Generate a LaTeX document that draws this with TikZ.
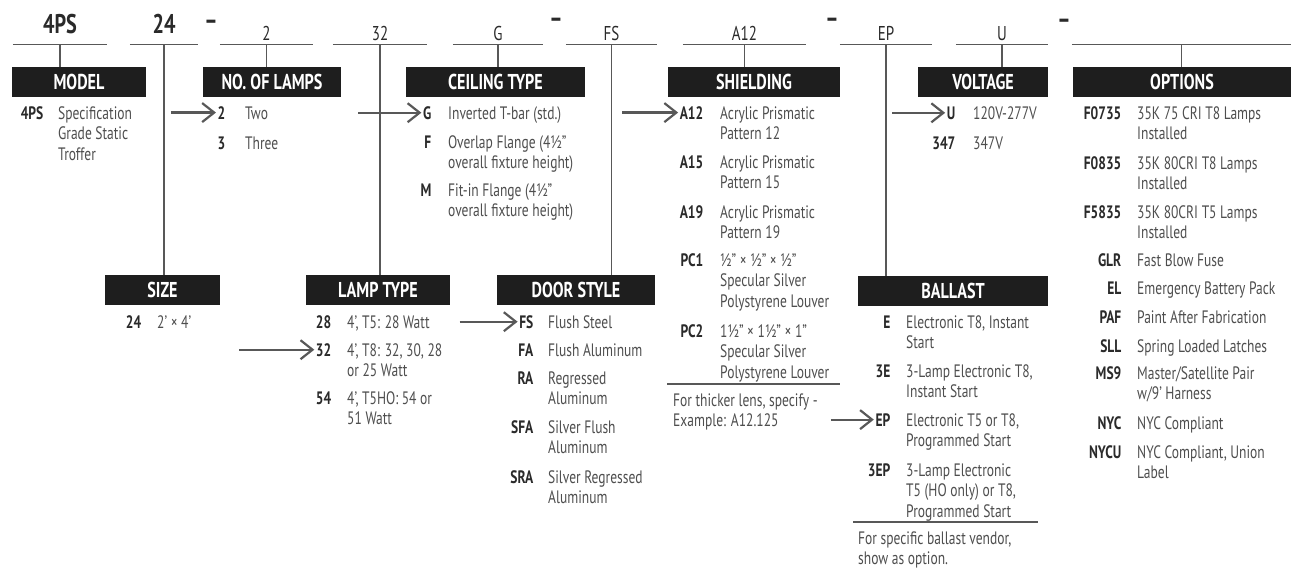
\documentclass[tikz,border=0pt]{standalone}
\usepackage{fontspec}
\setmainfont{PT Sans}[FakeStretch=0.75]
\usetikzlibrary{arrows.meta}
\definecolor{headfill}{HTML}{1E1E1E}
\definecolor{codecol}{HTML}{2A2A2A}
\definecolor{desccol}{HTML}{4E4E4E}
\definecolor{rulecol}{HTML}{585858}
\newcommand{\descfont}{\fontsize{18}{20.5}\selectfont}
\newcommand{\codefont}{\fontsize{18}{20.5}\selectfont\bfseries}
\newcommand{\headfont}{\fontsize{21.5}{24}\selectfont\bfseries}
\newcommand{\bigfont}{\fontsize{27}{30}\selectfont\bfseries}
\newcommand{\topfont}{\fontsize{20}{22}\selectfont}
\begin{document}
\begin{tikzpicture}[x=1pt, y=-1pt,
    head/.style={fill=headfill, text=white, font=\headfont, minimum height=30pt, inner sep=0pt},
    slot/.style={anchor=base, inner sep=0pt, text depth=4pt, font=\topfont, text=codecol},
    bigslot/.style={slot, text depth=11pt, font=\bigfont},
    joiner/.style={inner sep=0pt, font=\bigfont, text=codecol},
    opt/.style={anchor=base east, inner xsep=1.5pt, inner ysep=0pt, font=\codefont, text=codecol},
    desc/.style={anchor=north west, yshift=14.35pt, inner sep=0pt, align=left, font=\descfont, text=desccol},
    guide/.style={draw=rulecol, line width=1.3pt},
    pick/.style={-{Straight Barb[length=12pt,width=19pt]}, line width=2.2pt, draw=rulecol}]
    \useasboundingbox (0,0) rectangle (1291,568);

    % Catalog number
    \node[bigslot, minimum width=94pt] (s4PS) at (60,33) {4PS};
    \node[bigslot, minimum width=68pt] (s24) at (164,33) {24};
    \node[slot, minimum width=93pt] (s2) at (266.5,40) {2};
    \node[slot, minimum width=94pt] (s32) at (380,40) {32};
    \node[slot, minimum width=90pt] (sG) at (498,40) {G};
    \node[slot, minimum width=91pt] (sFS) at (611.5,40) {FS};
    \node[slot, minimum width=123pt] (sA12) at (744.5,40) {A12};
    \node[slot, minimum width=92pt] (sEP) at (886,40) {EP};
    \node[slot, minimum width=92pt] (sU) at (1002,40) {U};
    \node[slot, minimum width=219pt] (sOpt) at (1181.5,40) {};
    \node[joiner] (j1) at (211,25) {–};
    \node[joiner] (j2) at (556,23) {–};
    \node[joiner] (j3) at (832,23) {–};
    \node[joiner] (j4) at (1064,24) {–};

    % Headers
    \node[head, minimum width=134pt] (hModel) at (79,82) {MODEL};
    \node[head, minimum width=138pt] (hLamps) at (272,82) {NO. OF LAMPS};
    \node[head, minimum width=179pt] (hCeil) at (495.5,82) {CEILING TYPE};
    \node[head, minimum width=172pt] (hShield) at (754,82) {SHIELDING};
    \node[head, minimum width=130pt] (hVolt) at (983,82) {VOLTAGE};
    \node[head, minimum width=218pt] (hOpt) at (1182,82) {OPTIONS};
    \node[head, minimum width=115pt] (hSize) at (162.5,290) {SIZE};
    \node[head, minimum width=144pt] (hLamp) at (378,290) {LAMP TYPE};
    \node[head, minimum width=158pt] (hDoor) at (576,290) {DOOR STYLE};
    \node[head, minimum width=190pt] (hBall) at (953,291) {BALLAST};

    % Lines from the number to the headers
    \draw[guide] (s4PS.south west) -- (s4PS.south east) (s4PS.south) -- (s4PS.south |- hModel.north);
    \draw[guide] (s24.south west) -- (s24.south east) (s24.south) -- (s24.south |- hSize.north);
    \draw[guide] (s2.south west) -- (s2.south east) (s2.south) -- (s2.south |- hLamps.north);
    \draw[guide] (s32.south west) -- (s32.south east) (s32.south) -- (s32.south |- hLamp.north);
    \draw[guide] (sG.south west) -- (sG.south east) (sG.south) -- (sG.south |- hCeil.north);
    \draw[guide] (sFS.south west) -- (sFS.south east) (sFS.south) -- (sFS.south |- hDoor.north);
    \draw[guide] (sA12.south west) -- (sA12.south east) (sA12.south) -- (sA12.south |- hShield.north);
    \draw[guide] (sEP.south west) -- (sEP.south east) (sEP.south) -- (sEP.south |- hBall.north);
    \draw[guide] (sU.south west) -- (sU.south east) (sU.south) -- (sU.south |- hVolt.north);
    \draw[guide] (sOpt.south west) -- (sOpt.south east) (sOpt.south) -- (sOpt.south |- hOpt.north);

    % Model
    \node[opt] (m4PS) at (45,119) {4PS};
    \node[desc] (m4PSt) at (58,119) {\strut Specification\\Grade Static\\Troffer};

    % No. of lamps
    \node[opt] (l2) at (227,119) {2};
    \node[desc] (l2t) at (245,119) {\strut Two};
    \node[opt] (l3) at (227,149) {3};
    \node[desc] (l3t) at (245,149) {\strut Three};

    % Ceiling type
    \node[opt] (cG) at (433,119) {G};
    \node[desc] (cGt) at (448,119) {\strut Inverted T-bar (std.)};
    \node[opt] (cF) at (433,148) {F};
    \node[desc] (cFt) at (448,148) {\strut Overlap Flange (4½"\\overall fixture height)};
    \node[opt] (cM) at (433,196) {M};
    \node[desc] (cMt) at (448,196) {\strut Fit-in Flange (4½"\\overall fixture height)};

    % Shielding
    \node[opt] (shA12) at (705,119) {A12};
    \node[desc] (shA12t) at (720,119) {\strut Acrylic Prismatic\\Pattern 12};
    \node[opt] (shA15) at (705,168) {A15};
    \node[desc] (shA15t) at (720,168) {\strut Acrylic Prismatic\\Pattern 15};
    \node[opt] (shA19) at (705,218) {A19};
    \node[desc] (shA19t) at (720,218) {\strut Acrylic Prismatic\\Pattern 19};
    \node[opt] (shPC1) at (705,266) {PC1};
    \node[desc] (shPC1t) at (720,266) {\strut ½" × ½" × ½"\\Specular Silver\\Polystyrene Louver};
    \node[opt] (shPC2) at (705,337) {PC2};
    \node[desc] (shPC2t) at (720,337) {\strut 1½" × 1½" × 1"\\Specular Silver\\Polystyrene Louver};
    \draw[guide] (667,384) -- (840,384);
    \node[desc] (shNote) at (673,406) {\strut For thicker lens, specify -\\Example: A12.125};

    % Voltage
    \node[opt] (vU) at (957,119) {U};
    \node[desc] (vUt) at (973,119) {\strut 120V-277V};
    \node[opt] (v347) at (957,149) {347};
    \node[desc] (v347t) at (973,149) {\strut 347V};

    % Options
    \node[opt] (oF0735) at (1123,119) {F0735};
    \node[desc] (oF0735t) at (1137,119) {\strut 35K 75 CRI T8 Lamps\\Installed};
    \node[opt] (oF0835) at (1123,169) {F0835};
    \node[desc] (oF0835t) at (1137,169) {\strut 35K 80CRI T8 Lamps\\Installed};
    \node[opt] (oF5835) at (1123,218) {F5835};
    \node[desc] (oF5835t) at (1137,218) {\strut 35K 80CRI T5 Lamps\\Installed};
    \node[opt] (oGLR) at (1123,266) {GLR};
    \node[desc] (oGLRt) at (1137,266) {\strut Fast Blow Fuse};
    \node[opt] (oEL) at (1123,294) {EL};
    \node[desc] (oELt) at (1137,294) {\strut Emergency Battery Pack};
    \node[opt] (oPAF) at (1123,323) {PAF};
    \node[desc] (oPAFt) at (1137,323) {\strut Paint After Fabrication};
    \node[opt] (oSLL) at (1123,352) {SLL};
    \node[desc] (oSLLt) at (1137,352) {\strut Spring Loaded Latches};
    \node[opt] (oMS9) at (1123,379) {MS9};
    \node[desc] (oMS9t) at (1137,379) {\strut Master/Satellite Pair\\w/9' Harness};
    \node[opt] (oNYC) at (1123,429) {NYC};
    \node[desc] (oNYCt) at (1137,429) {\strut NYC Compliant};
    \node[opt] (oNYCU) at (1123,458) {NYCU};
    \node[desc] (oNYCUt) at (1137,458) {\strut NYC Compliant, Union\\Label};

    % Size
    \node[opt] (z24) at (143,328) {24};
    \node[desc] (z24t) at (157,328) {\strut 2' × 4'};

    % Lamp type
    \node[opt] (t28) at (333,328) {28};
    \node[desc] (t28t) at (347,328) {\strut 4', T5: 28 Watt};
    \node[opt] (t32) at (333,356) {32};
    \node[desc] (t32t) at (347,356) {\strut 4', T8: 32, 30, 28\\or 25 Watt};
    \node[opt] (t54) at (333,404) {54};
    \node[desc] (t54t) at (347,404) {\strut 4', T5HO: 54 or\\51 Watt};

    % Door style
    \node[opt] (dFS) at (535,328) {FS};
    \node[desc] (dFSt) at (548,328) {\strut Flush Steel};
    \node[opt] (dFA) at (535,356) {FA};
    \node[desc] (dFAt) at (548,356) {\strut Flush Aluminum};
    \node[opt] (dRA) at (535,384) {RA};
    \node[desc] (dRAt) at (548,384) {\strut Regressed\\Aluminum};
    \node[opt] (dSFA) at (535,433) {SFA};
    \node[desc] (dSFAt) at (548,433) {\strut Silver Flush\\Aluminum};
    \node[opt] (dSRA) at (535,483) {SRA};
    \node[desc] (dSRAt) at (548,483) {\strut Silver Regressed\\Aluminum};

    % Ballast
    \node[opt] (bE) at (892,328) {E};
    \node[desc] (bEt) at (906,328) {\strut Electronic T8, Instant\\Start};
    \node[opt] (b3E) at (892,377) {3E};
    \node[desc] (b3Et) at (906,377) {\strut 3-Lamp Electronic T8,\\Instant Start};
    \node[opt] (bEP) at (892,426) {EP};
    \node[desc] (bEPt) at (906,426) {\strut Electronic T5 or T8,\\Programmed Start};
    \node[opt] (b3EP) at (892,476) {3EP};
    \node[desc] (b3EPt) at (906,476) {\strut 3-Lamp Electronic\\T5 (HO only) or T8,\\Programmed Start};
    \draw[guide] (853,522) -- (1038,522);
    \node[desc] (bNote) at (858,544) {\strut For specific ballast vendor,\\show as option.};

    % Arrows to the chosen codes
    \draw[pick] ([xshift=-45pt]l2.west) -- (l2.west);
    \draw[pick] ([xshift=-63pt]cG.west) -- (cG.west);
    \draw[pick] ([xshift=-56pt]shA12.west) -- (shA12.west);
    \draw[pick] ([xshift=-53pt]vU.west) -- (vU.west);
    \draw[pick] ([xshift=-75pt]t32.west) -- (t32.west);
    \draw[pick] ([xshift=-58pt]dFS.west) -- (dFS.west);
    \draw[pick] ([xshift=-43pt]bEP.west) -- (bEP.west);
\end{tikzpicture}
\end{document}
